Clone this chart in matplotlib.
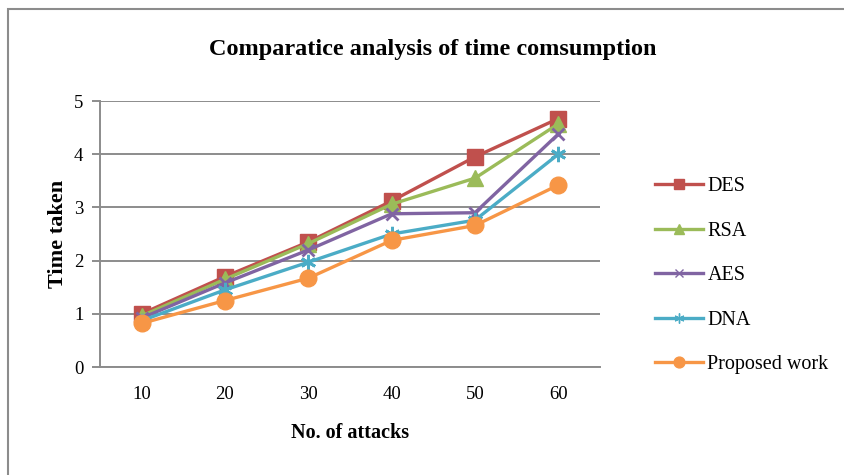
import matplotlib
matplotlib.use("Agg")
import matplotlib.pyplot as plt
from matplotlib.patches import Rectangle
from matplotlib.lines import Line2D

attacks = [10, 20, 30, 40, 50, 60]
des = [1.0, 1.7, 2.35, 3.12, 3.95, 4.67]
rsa = [0.96, 1.65, 2.32, 3.06, 3.55, 4.57]
aes = [0.92, 1.58, 2.2, 2.88, 2.9, 4.38]
dna = [0.87, 1.45, 1.97, 2.5, 2.76, 4.0]
proposed = [0.82, 1.25, 1.67, 2.38, 2.66, 3.42]

series_names = ["DES", "RSA", "AES", "DNA", "Proposed work"]
series_values = [des, rsa, aes, dna, proposed]
colors = ["#C0504D", "#9BBB59", "#8064A2", "#4BACC6", "#F79646"]
markers = ["s", "^", "x", (6, 2, 0), "o"]
msizes = [11.5, 11, 9, 11, 12]

plt.rcParams["font.family"] = ["Liberation Serif", "DejaVu Serif"]

fig = plt.figure(figsize=(8.45, 4.75), dpi=100)
W, H = 845, 475

# outer chart frame
fig.patches.append(Rectangle((8 / W, -0.1), 2.0, (H - 9) / H + 0.1,
                             transform=fig.transFigure, fill=False,
                             edgecolor="#8c8c8c", linewidth=1.5))

ax = fig.add_axes([100 / W, (H - 367) / H, 500 / W, 266 / H])

for name, vals, c, m, ms in zip(series_names, series_values, colors, markers, msizes):
    mew = 2.0 if m in ("x", (6, 2, 0)) else 1.0
    ax.plot(attacks, vals, color=c, linewidth=2.4, marker=m, markersize=ms,
            markeredgecolor=c, markerfacecolor=c, markeredgewidth=mew,
            label=name, zorder=3)

ax.set_xlim(5, 65)
ax.set_ylim(0, 5)
ax.set_xticks(attacks)
ax.set_yticks([0, 1, 2, 3, 4, 5])
ax.yaxis.grid(True, color="#8c8c8c", linewidth=1.4)
ax.set_axisbelow(True)
for s in ("top", "right"):
    ax.spines[s].set_visible(False)
for s in ("left", "bottom"):
    ax.spines[s].set_color("#8c8c8c")
    ax.spines[s].set_linewidth(1.4)
ax.tick_params(axis="y", length=6, width=1.4, color="#8c8c8c", labelsize=13.5, pad=6)
ax.tick_params(axis="x", length=0, labelsize=13.5, pad=14)

ax.set_xlabel("No. of attacks", fontsize=14.5, fontweight="bold", labelpad=14)
ax.set_ylabel("Time taken", fontsize=16, fontweight="bold", labelpad=4)

fig.text(433 / W, 1 - 50 / H, "Comparatice analysis of time comsumption",
         ha="center", va="center", fontsize=17.5, fontweight="bold")

handles = [Line2D([], [], color=c, linewidth=2.4, marker=m, markersize=ms * 0.65,
                  markeredgecolor=c, markerfacecolor=c)
           for c, m, ms in zip(colors, markers, msizes)]
fig.legend(handles, series_names, loc="upper left",
           bbox_to_anchor=(645 / W, 1 - 167 / H), frameon=False,
           fontsize=14.5, handlelength=2.4, handletextpad=0.2,
           labelspacing=1.26, borderpad=0)

fig.savefig("out.png", dpi=100)
